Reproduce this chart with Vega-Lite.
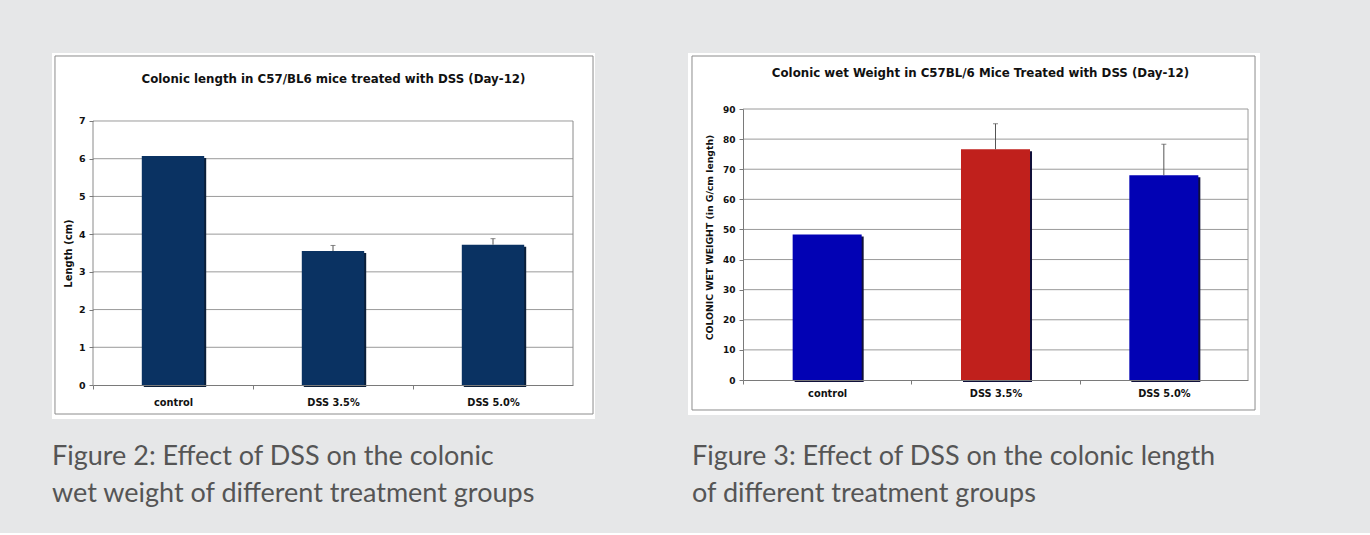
{
  "$schema": "https://vega.github.io/schema/vega-lite/v6.json",
  "background": "#e6e7e8",
  "padding": {"left": 52, "top": 52, "right": 110, "bottom": 25},
  "spacing": 93,
  "config": {
    "view": {"stroke": null},
    "font": "DejaVu Sans",
    "axis": {"zindex": 2, "grid": false, "labelOverlap": false, "domainColor": "#7a7a7a", "tickColor": "#7a7a7a", "labelColor": "#111111", "titleColor": "#111111", "labelFontWeight": "bold", "titleFontWeight": "bold", "labelFont": "DejaVu Sans", "titleFont": "DejaVu Sans"}
  },
  "hconcat": [
    {
      "title": {"text": ["Figure 2: Effect of DSS on the colonic", "wet weight of different treatment groups"], "orient": "bottom", "anchor": "start", "frame": "bounds", "font": "Lato", "fontSize": 27, "fontWeight": "normal", "color": "#555555", "lineHeight": 37, "offset": 25, "baseline": "top", "dx": 0},
      "vconcat": [
        {
          "width": 480,
          "height": 276,
          "resolve": {"scale": {"x": "independent"}},
          "layer": [
            {
              "layer": [
                {
                  "data": {"values": [{}]},
                  "mark": {"type": "rect", "fill": "white"},
                  "encoding": {
                    "x": {"datum": -0.0854, "type": "quantitative", "scale": {"domain": [0, 1], "nice": false}, "axis": {"orient": "top", "zindex": 2, "title": "Colonic length in C57/BL6 mice treated with DSS (Day-12)", "labels": false, "ticks": false, "domain": false, "titlePadding": 25, "titleFontSize": 11.8}},
                    "x2": {"datum": 1.0458},
                    "y": {"datum": 8.803, "type": "quantitative", "scale": {"domain": [0, 7.318], "nice": false}, "axis": {"values": [0, 1, 2, 3, 4, 5, 6, 7], "tickCount": 20, "format": "d", "labelOverlap": false, "title": "Length (cm)"}},
                    "y2": {"datum": -0.9015}
                  }
                },
                {
                  "data": {"values": [{}]},
                  "mark": {"type": "rect", "fill": null, "stroke": "#8c8c8c", "strokeWidth": 1},
                  "encoding": {
                    "x": {"datum": -0.0792, "type": "quantitative"},
                    "x2": {"datum": 1.0417},
                    "y": {"datum": 8.7235, "type": "quantitative"},
                    "y2": {"datum": -0.769}
                  }
                },
                {
                  "data": {"values": [{"g": 1}, {"g": 2}, {"g": 3}, {"g": 4}, {"g": 5}, {"g": 6}, {"g": 7}]},
                  "mark": {"type": "rule", "color": "#9a9a9a", "strokeWidth": 1},
                  "encoding": {"y": {"field": "g", "type": "quantitative"}}
                },
                {
                  "data": {"values": [{"edge": 0}, {"edge": 1}]},
                  "mark": {"type": "rule", "color": "#8a8a8a", "strokeWidth": 1},
                  "encoding": {"x": {"field": "edge", "type": "quantitative"}, "y": {"datum": 0, "type": "quantitative"}, "y2": {"datum": 7}}
                }
              ]
            },
            {
              "data": {"values": [
                {"group": "control", "value": 6.07, "upper": null},
                {"group": "DSS 3.5%", "value": 3.55, "upper": 3.70},
                {"group": "DSS 5.0%", "value": 3.72, "upper": 3.88}
              ]},
              "encoding": {
                "x": {"field": "group", "type": "nominal", "sort": null, "scale": {"paddingInner": 0.61, "paddingOuter": 0.305}, "axis": {"title": null, "zindex": 2, "labelAngle": 0, "tickSize": 4, "tickOffset": -80, "labelOffset": 80, "labelPadding": 8, "labelFontSize": 9.8}}
              },
              "layer": [
                {
                  "mark": {"type": "bar", "color": "#0b1f3a", "xOffset": 2, "yOffset": 2},
                  "encoding": {"y": {"field": "value", "type": "quantitative", "scale": {"domain": [0, 7.318], "nice": false}, "axis": {"title": "Length (cm)", "zindex": 2, "domain": false, "values": [0, 1, 2, 3, 4, 5, 6, 7], "tickCount": 20, "format": "d", "labelOverlap": false, "tickSize": 4, "labelPadding": 4, "labelFontSize": 9.5, "titleFontSize": 10, "titlePadding": 5, "titleY": 144}}}
                },
                {
                  "mark": {"type": "bar", "color": "#0a3262"},
                  "encoding": {"y": {"field": "value", "type": "quantitative"}}
                },
                {
                  "transform": [{"filter": "datum.upper != null"}],
                  "mark": {"type": "rule", "color": "#555555", "strokeWidth": 1},
                  "encoding": {"y": {"field": "value", "type": "quantitative"}, "y2": {"field": "upper"}}
                },
                {
                  "transform": [{"filter": "datum.upper != null"}],
                  "mark": {"type": "tick", "color": "#555555", "thickness": 1, "size": 5},
                  "encoding": {"y": {"field": "upper", "type": "quantitative"}}
                }
              ]
            }
          ]
        }
      ]
    },
    {
      "title": {"text": ["Figure 3: Effect of DSS on the colonic length", "of different treatment groups"], "orient": "bottom", "anchor": "start", "frame": "bounds", "font": "Lato", "fontSize": 27, "fontWeight": "normal", "color": "#555555", "lineHeight": 37, "offset": 29, "baseline": "top", "dx": 4},
      "vconcat": [
        {
          "width": 505,
          "height": 271,
          "resolve": {"scale": {"x": "independent"}},
          "layer": [
            {
              "layer": [
                {
                  "data": {"values": [{}]},
                  "mark": {"type": "rect", "fill": "white"},
                  "encoding": {
                    "x": {"datum": -0.1089, "type": "quantitative", "scale": {"domain": [0, 1], "nice": false}, "axis": {"orient": "top", "zindex": 2, "title": "Colonic wet Weight in C57BL/6 Mice Treated with DSS (Day-12)", "labels": false, "ticks": false, "domain": false, "titlePadding": 31, "titleFontSize": 11.8, "titleX": 237}},
                    "x2": {"datum": 1.0238},
                    "y": {"datum": 108.6, "type": "quantitative", "scale": {"domain": [0, 90], "nice": false}, "axis": {"values": [0, 10, 20, 30, 40, 50, 60, 70, 80, 90], "tickCount": 20, "format": "d", "labelOverlap": false, "title": "COLONIC WET WEIGHT (in G/cm length)"}},
                    "y2": {"datum": -11.62}
                  }
                },
                {
                  "data": {"values": [{}]},
                  "mark": {"type": "rect", "fill": null, "stroke": "#8c8c8c", "strokeWidth": 1},
                  "encoding": {
                    "x": {"datum": -0.101, "type": "quantitative"},
                    "x2": {"datum": 1.0139},
                    "y": {"datum": 107.6, "type": "quantitative"},
                    "y2": {"datum": -9.963}
                  }
                },
                {
                  "data": {"values": [{"g": 10}, {"g": 20}, {"g": 30}, {"g": 40}, {"g": 50}, {"g": 60}, {"g": 70}, {"g": 80}, {"g": 90}]},
                  "mark": {"type": "rule", "color": "#9a9a9a", "strokeWidth": 1},
                  "encoding": {"y": {"field": "g", "type": "quantitative"}}
                },
                {
                  "data": {"values": [{}]},
                  "mark": {"type": "rule", "color": "#9a9a9a", "strokeWidth": 1},
                  "encoding": {"x": {"datum": 1, "type": "quantitative"}, "y": {"datum": 0, "type": "quantitative"}, "y2": {"datum": 90}}
                }
              ]
            },
            {
              "data": {"values": [
                {"group": "control", "value": 48.3, "upper": null},
                {"group": "DSS 3.5%", "value": 76.6, "upper": 85.1},
                {"group": "DSS 5.0%", "value": 68.0, "upper": 78.3}
              ]},
              "encoding": {
                "x": {"field": "group", "type": "nominal", "sort": null, "scale": {"paddingInner": 0.59, "paddingOuter": 0.295}, "axis": {"title": null, "zindex": 2, "labelAngle": 0, "tickSize": 4, "tickOffset": -84.17, "labelOffset": 84.17, "labelPadding": 4, "labelFontSize": 9.8}}
              },
              "layer": [
                {
                  "mark": {"type": "bar", "color": "#10103a", "xOffset": 2, "yOffset": 2},
                  "encoding": {"y": {"field": "value", "type": "quantitative", "scale": {"domain": [0, 90], "nice": false}, "axis": {"title": "COLONIC WET WEIGHT (in G/cm length)", "zindex": 2, "values": [0, 10, 20, 30, 40, 50, 60, 70, 80, 90], "tickCount": 20, "format": "d", "labelOverlap": false, "tickSize": 4, "labelPadding": 4, "labelFontSize": 9, "titleFontSize": 9.3, "titlePadding": 8, "titleY": 128}}}
                },
                {
                  "mark": {"type": "bar"},
                  "encoding": {
                    "y": {"field": "value", "type": "quantitative"},
                    "color": {"field": "group", "type": "nominal", "scale": {"domain": ["control", "DSS 3.5%", "DSS 5.0%"], "range": ["#0202b4", "#c0201c", "#0202b4"]}, "legend": null}
                  }
                },
                {
                  "transform": [{"filter": "datum.upper != null"}],
                  "mark": {"type": "rule", "color": "#555555", "strokeWidth": 1},
                  "encoding": {"y": {"field": "value", "type": "quantitative"}, "y2": {"field": "upper"}}
                },
                {
                  "transform": [{"filter": "datum.upper != null"}],
                  "mark": {"type": "tick", "color": "#555555", "thickness": 1, "size": 5},
                  "encoding": {"y": {"field": "upper", "type": "quantitative"}}
                }
              ]
            }
          ]
        }
      ]
    }
  ]
}
